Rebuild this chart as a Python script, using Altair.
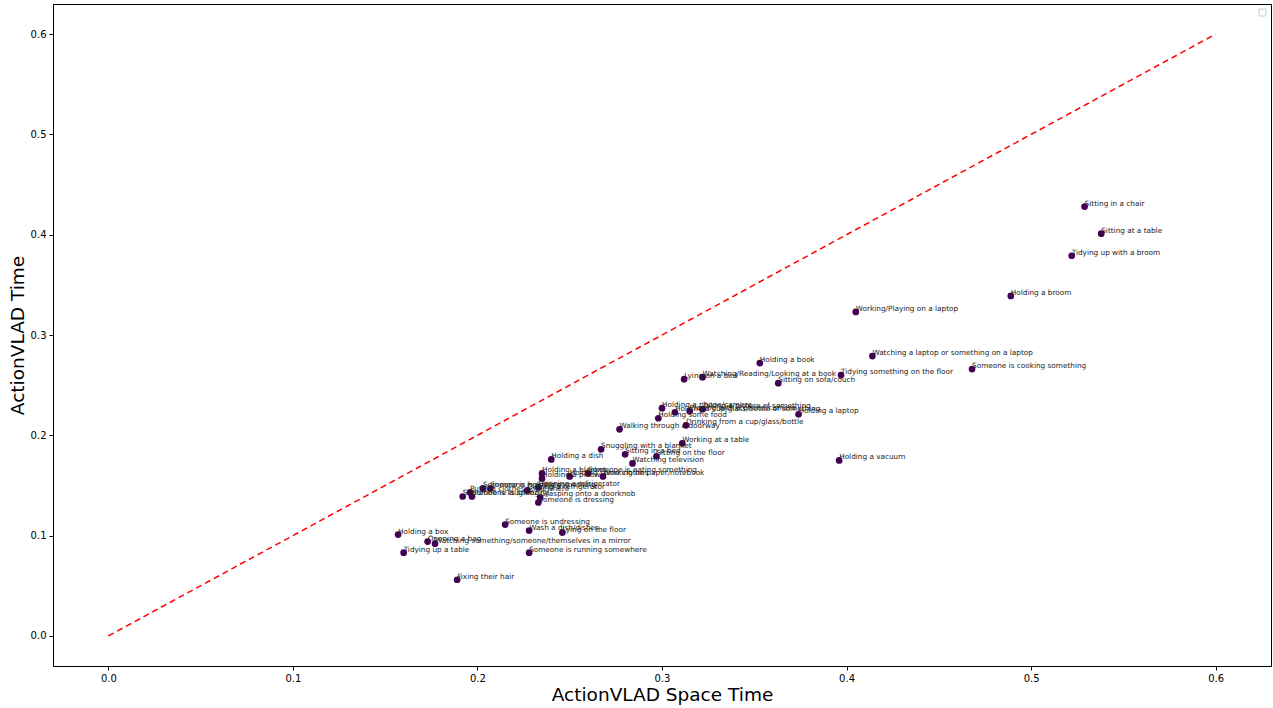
import altair as alt
import pandas as pd

labels = [
    "Sitting in a chair", "Sitting at a table", "Tidying up with a broom", "Holding a broom",
    "Working/Playing on a laptop", "Watching a laptop or something on a laptop",
    "Someone is cooking something", "Tidying something on the floor", "Holding a book",
    "Sitting on sofa/couch", "Watching/Reading/Looking at a book", "Lying on a bed",
    "Holding a laptop", "Holding a vacuum", "Holding a phone/camera",
    "Holding a cup/glass/bottle of something", "Playing with a phone/camera",
    "Taking a picture of something", "Holding some food", "Walking through a doorway",
    "Drinking from a cup/glass/bottle", "Working at a table", "Snuggling with a blanket",
    "Sitting in a bed", "Sitting on the floor", "Watching television", "Holding a dish",
    "Holding a blanket", "Holding a pillow", "Holding some clothes",
    "Someone is eating something", "Working on paper/notebook",
    "Someone is laughing", "Putting clothes somewhere", "Someone is sneezing",
    "Someone is holding something", "Someone is smiling", "Closing a refrigerator",
    "Opening a refrigerator", "Grasping onto a doorknob", "Someone is dressing",
    "Someone is undressing", "Wash a dish/dishes", "Lying on the floor", "Holding a box",
    "Opening a bag", "Watching something/someone/themselves in a mirror",
    "Tidying up a table", "Someone is running somewhere", "Fixing their hair",
]
space_time = [
    0.529, 0.538, 0.522, 0.489, 0.405, 0.414, 0.468, 0.397, 0.353, 0.363, 0.322, 0.312,
    0.374, 0.396, 0.300, 0.307, 0.315, 0.322, 0.298, 0.277, 0.313, 0.311, 0.267, 0.280,
    0.297, 0.284, 0.240, 0.235, 0.235, 0.250, 0.260, 0.268,
    0.192, 0.196, 0.197, 0.203, 0.207, 0.227, 0.233, 0.234, 0.233,
    0.215, 0.228, 0.246, 0.157, 0.173, 0.177, 0.160, 0.228, 0.189,
]
time_only = [
    0.428, 0.401, 0.379, 0.339, 0.323, 0.279, 0.266, 0.260, 0.272, 0.252, 0.258, 0.256,
    0.221, 0.175, 0.227, 0.223, 0.224, 0.226, 0.217, 0.206, 0.210, 0.192, 0.186, 0.181,
    0.179, 0.172, 0.176, 0.162, 0.157, 0.159, 0.162, 0.159,
    0.139, 0.143, 0.139, 0.147, 0.147, 0.145, 0.148, 0.138, 0.133,
    0.111, 0.105, 0.103, 0.101, 0.094, 0.092, 0.083, 0.083, 0.056,
]
diag = [0.0, 0.6]
ticks = [0.0, 0.1, 0.2, 0.3, 0.4, 0.5, 0.6]

df = pd.DataFrame({"label": labels, "st": space_time, "t": time_only})
ddf = pd.DataFrame({"a": diag})

xs = alt.Scale(domain=[-0.03, 0.63], nice=False, zero=False)
ys = alt.Scale(domain=[-0.03, 0.63], nice=False, zero=False)
xax = alt.Axis(values=ticks, format=".1f", grid=False, title="ActionVLAD Space Time")
yax = alt.Axis(values=ticks, format=".1f", grid=False, title="ActionVLAD Time")

line = alt.Chart(ddf).mark_line(color="red", strokeDash=[6, 4], strokeWidth=1.5).encode(
    x=alt.X("a:Q", scale=xs, axis=xax),
    y=alt.Y("a:Q", scale=ys, axis=yax),
)
pts = alt.Chart(df).mark_circle(size=45, color="#440154", opacity=1).encode(
    x=alt.X("st:Q", scale=xs),
    y=alt.Y("t:Q", scale=ys),
)
txt = alt.Chart(df).mark_text(
    align="left", baseline="bottom", fontSize=7.3, font="DejaVu Sans", color="#222222", dx=0, dy=1
).encode(
    x=alt.X("st:Q", scale=xs),
    y=alt.Y("t:Q", scale=ys),
    text="label:N",
)
legend_box = alt.Chart(pd.DataFrame({"k": [0]})).mark_rect(
    fill="white", stroke="#cccccc", strokeWidth=1
).encode(
    x=alt.value(1206), x2=alt.value(1213), y=alt.value(5), y2=alt.value(12)
)

chart = alt.layer(line, pts, txt, legend_box).properties(
    width=1218, height=662,
    padding={"left": 53, "top": 4, "right": 2, "bottom": 42},
    autosize=alt.AutoSizeParams(type="none"),
).configure_view(stroke="black", strokeWidth=1).configure_axis(
    domainColor="black", tickColor="black", labelColor="black", titleColor="black",
    labelFont="DejaVu Sans", titleFont="DejaVu Sans", labelFontSize=10, titleFontSize=18.5,
    titleFontWeight="normal", tickSize=4, labelPadding=3,
).configure_axisX(titlePadding=2).configure_axisY(titlePadding=3)

chart.save("out.html", embed_options={"renderer": "svg", "actions": False})
